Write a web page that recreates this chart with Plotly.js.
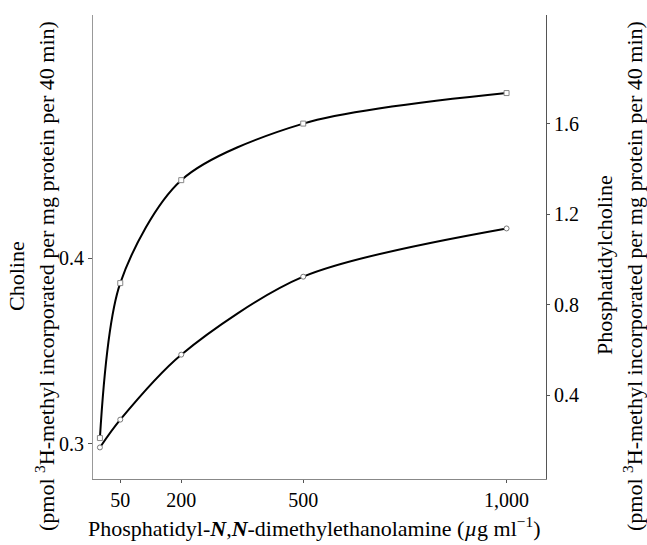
<!DOCTYPE html>
<html>
<head>
<meta charset="utf-8">
<script src="https://cdn.plot.ly/plotly-3.0.1.min.js"></script>
<style>html,body{margin:0;padding:0;background:#fff;}#chart{width:647px;height:545px;}</style>
</head>
<body>
<div id="chart"></div>
<script>
// Data
const concentration = [0, 50, 200, 500, 1000];          // µg ml-1
const phosphatidylcholine = [0.21, 0.895, 1.35, 1.60, 1.735]; // right axis
const choline = [0.298, 0.313, 0.348, 0.39, 0.416];     // left axis
const xTickVals = [50, 200, 500, 1000];
const xTickText = ['50', '200', '500', '1,000'];
const yTickVals = [0.3, 0.4];
const yTickText = ['0.3', '0.4'];
const y2TickVals = [0.4, 0.8, 1.2, 1.6];
const y2TickText = ['0.4', '0.8', '1.2', '1.6'];

const serif = 'Liberation Serif, Times New Roman, serif';

const traces = [
  {
    x: concentration, y: phosphatidylcholine, yaxis: 'y2', type: 'scatter', mode: 'lines+markers',
    line: {color: '#000', width: 2, shape: 'spline', smoothing: 0.85},
    marker: {symbol: 'square', size: 5, color: '#fff', line: {color: '#888', width: 1}},
    hoverinfo: 'x+y', name: 'Phosphatidylcholine'
  },
  {
    x: concentration, y: choline, yaxis: 'y', type: 'scatter', mode: 'lines+markers',
    line: {color: '#000', width: 2, shape: 'spline', smoothing: 0.85},
    marker: {symbol: 'circle', size: 5, color: '#fff', line: {color: '#777', width: 1}},
    hoverinfo: 'x+y', name: 'Choline'
  }
];

const ml = 93, mr = 101, mt = 15, mb = 66;
const W = 647, H = 545;
const pw = W - ml - mr, ph = H - mt - mb;
const px = p => (p - ml) / pw;
const py = p => (H - mb - p) / ph;

const layout = {
  width: W, height: H,
  margin: {l: ml, r: mr, t: mt, b: mb, pad: 0},
  paper_bgcolor: '#fff', plot_bgcolor: '#fff',
  showlegend: false,
  font: {family: serif, color: '#000', size: 20},
  xaxis: {
    range: [-17, 1097], tickvals: xTickVals, ticktext: xTickText,
    showgrid: false, zeroline: false, showline: true, linecolor: '#888', linewidth: 1,
    ticks: 'outside', ticklen: 3, tickcolor: '#555',
    tickfont: {family: serif, size: 20, color: '#000'}
  },
  yaxis: {
    range: [0.281, 0.531], tickvals: yTickVals, ticktext: yTickText,
    showgrid: false, zeroline: false, showline: true, linecolor: '#999', linewidth: 1,
    ticks: 'outside', ticklen: 4, tickcolor: '#555',
    tickfont: {family: serif, size: 20, color: '#000'}
  },
  yaxis2: {
    range: [0.029, 2.08], tickvals: y2TickVals, ticktext: y2TickText,
    overlaying: 'y', side: 'right',
    showgrid: false, zeroline: false, showline: true, linecolor: '#555', linewidth: 1,
    ticks: 'outside', ticklen: 3, tickcolor: '#555',
    tickfont: {family: serif, size: 20, color: '#000'}
  },
  annotations: [
    {text: 'Choline', xref: 'paper', yref: 'paper', x: px(16), y: py(276),
     xanchor: 'center', yanchor: 'middle', textangle: -90, showarrow: false,
     font: {family: serif, size: 22, color: '#000'}},
    {text: '(pmol <sup>3</sup>H-methyl incorporated per mg protein per 40 min)', xref: 'paper', yref: 'paper',
     x: px(45), y: py(276), xanchor: 'center', yanchor: 'middle', textangle: -90, showarrow: false,
     font: {family: serif, size: 22, color: '#000'}},
    {text: 'Phosphatidylcholine', xref: 'paper', yref: 'paper', x: px(604), y: py(265),
     xanchor: 'center', yanchor: 'middle', textangle: -90, showarrow: false,
     font: {family: serif, size: 22, color: '#000'}},
    {text: '(pmol <sup>3</sup>H-methyl incorporated per mg protein per 40 min)', xref: 'paper', yref: 'paper',
     x: px(633), y: py(276), xanchor: 'center', yanchor: 'middle', textangle: -90, showarrow: false,
     font: {family: serif, size: 22, color: '#000'}},
    {text: 'Phosphatidyl-<b><i>N</i></b>,<b><i>N</i></b>-dimethylethanolamine (<i>µ</i>g ml<sup>−1</sup>)',
     xref: 'paper', yref: 'paper', x: px(314), y: py(527),
     xanchor: 'center', yanchor: 'middle', showarrow: false,
     font: {family: serif, size: 22, color: '#000'}}
  ]
};

Plotly.newPlot('chart', traces, layout, {displayModeBar: false, staticPlot: true});
</script>
</body>
</html>
